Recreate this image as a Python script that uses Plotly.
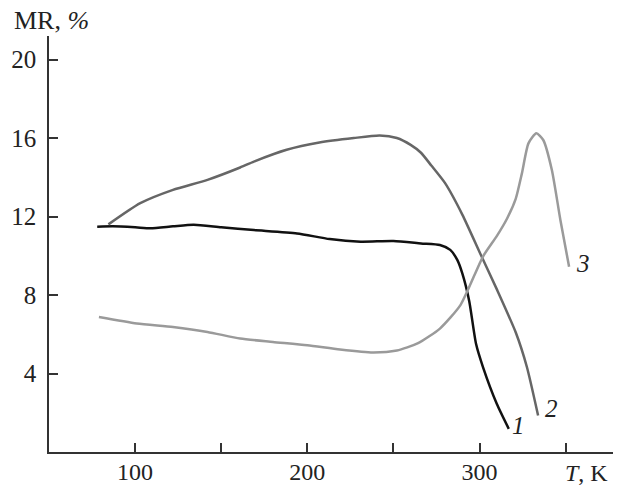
import plotly.graph_objects as go

# Curve 1 (black)
T1 = [78, 87, 100, 109, 122, 134, 150, 169, 194, 213, 231, 250, 266, 277, 283, 287, 290, 294, 298, 302, 310, 317]
MR1 = [11.48, 11.5, 11.45, 11.4, 11.5, 11.58, 11.45, 11.31, 11.14, 10.85, 10.72, 10.75, 10.63, 10.55, 10.3, 9.8, 9.1, 7.7, 5.5, 4.33, 2.46, 1.18]

# Curve 2 (dark gray)
T2 = [84.5, 103, 122, 142, 161, 169, 188, 207, 227, 242, 252, 260, 266, 272, 280, 290, 301, 310, 321, 327.5, 334]
MR2 = [11.6, 12.68, 13.36, 13.87, 14.5, 14.8, 15.4, 15.77, 16.0, 16.13, 16.0, 15.65, 15.25, 14.6, 13.7, 12.1, 10.0, 8.3, 6.1, 4.33, 1.86]

# Curve 3 (light gray)
T3 = [79, 101, 122, 142, 161, 180, 200, 219, 238, 252, 264, 277, 289, 302, 310, 316, 321, 324.6, 328.4, 333, 337, 342, 347, 352]
MR3 = [6.88, 6.55, 6.37, 6.12, 5.78, 5.61, 5.44, 5.22, 5.07, 5.17, 5.53, 6.29, 7.5, 9.96, 11.0, 11.9, 12.9, 14.2, 15.73, 16.24, 15.9, 14.37, 11.8, 9.44]

x_tickvals = [100, 150, 200, 250, 300, 350]
x_ticktext = ["100", "", "200", "", "300", ""]
y_tickvals = [4, 8, 12, 16, 20]
y_ticktext = ["4", "8", "12", "16", "20"]

curve_labels = ["1", "2", "3"]
label_pos_x = [322.6, 342, 360.3]
label_pos_y = [1.35, 2.2, 9.6]

FONT = "Liberation Serif, Times New Roman, serif"
fig = go.Figure()
for T, MR, col in [(T1, MR1, "#111111"), (T2, MR2, "#666666"), (T3, MR3, "#9a9a9a")]:
    fig.add_trace(go.Scatter(x=T, y=MR, mode="lines",
                             line=dict(color=col, width=2.5, shape="spline", smoothing=0.6),
                             showlegend=False, hoverinfo="skip"))

for lab, lx, ly in zip(curve_labels, label_pos_x, label_pos_y):
    fig.add_annotation(x=lx, y=ly, xref="x", yref="y", text="<i>%s</i>" % lab,
                       showarrow=False, font=dict(family=FONT, size=25, color="#222"))

fig.add_annotation(x=348.5, y=0, xref="x", yref="y", text="<i>T</i>, K",
                   xanchor="left", yanchor="middle", yshift=-21, showarrow=False,
                   font=dict(family=FONT, size=24, color="#222"))
fig.add_annotation(x=0, y=1, xref="paper", yref="paper", text="MR, <i>%</i>",
                   xanchor="left", yanchor="middle", xshift=-37, yshift=16, showarrow=False,
                   font=dict(family=FONT, size=26, color="#222"))

axis_common = dict(showline=True, linecolor="#333", linewidth=1.5, ticks="inside",
                   ticklen=9, tickwidth=1.5, tickcolor="#333", showgrid=False, zeroline=False,
                   automargin=False)
fig.update_xaxes(range=[50, 377.5], tickmode="array", tickvals=x_tickvals, ticktext=x_ticktext,
                 ticklabelstandoff=-3, tickfont=dict(family=FONT, size=24, color="#222"),
                 **axis_common)
fig.update_yaxes(range=[0, 21.2], tickmode="array", tickvals=y_tickvals, ticktext=y_ticktext,
                 ticklabelstandoff=6, tickfont=dict(family=FONT, size=25, color="#222"),
                 **axis_common)

fig.update_layout(width=619, height=486, margin=dict(l=49, r=6, t=36, b=34),
                  plot_bgcolor="white", paper_bgcolor="white")
# remove the default 8px page margin so the figure fills the window exactly
fig.write_html("out.html", config={"displayModeBar": False},
               post_script="document.body.style.margin='0';document.body.style.overflow='hidden';")
